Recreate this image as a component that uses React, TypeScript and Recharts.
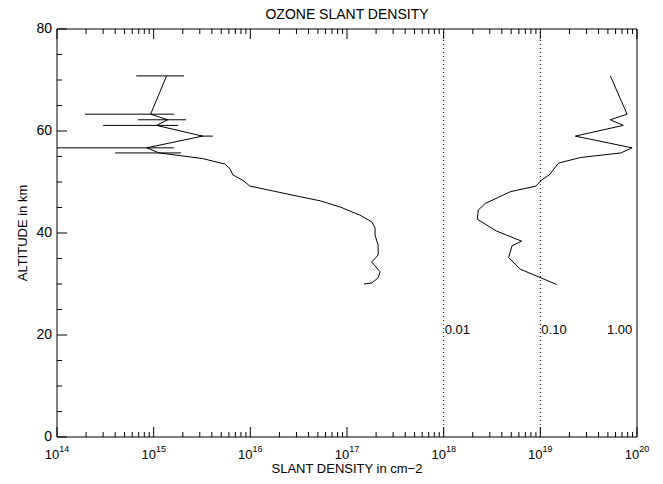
import React from "react"
import { ScatterChart, Scatter, XAxis, YAxis, ErrorBar, ReferenceLine } from "recharts"

const altitude = [70.8, 63.3, 62.2, 61.1, 59.0, 56.7, 55.7, 54.6, 53.5, 52.5, 51.4, 50.3, 49.2, 47.1, 46.3, 45.1, 43.5, 42.2, 41.0, 39.6, 37.6, 35.7, 34.3, 32.4, 31.2, 30.2, 30.0]
const slant = [1.36e15, 9.3e14, 1.4e15, 1.07e15, 3.2e15, 8.5e14, 1.14e15, 3.2e15, 5.5e15, 6.2e15, 6.6e15, 8.4e15, 9.9e15, 3.3e16, 5.3e16, 8.5e16, 1.36e17, 1.8e17, 1.95e17, 1.95e17, 2.1e17, 2.1e17, 1.8e17, 2.2e17, 2.1e17, 1.8e17, 1.5e17]
const slantLow = [6.6e14, 1.95e14, 6.9e14, 3.0e14, 2.97e15, 1e14, 4.0e14, 3.2e15, 5.5e15, 6.2e15, 6.6e15, 8.4e15, 9.9e15, 3.3e16, 5.3e16, 8.5e16, 1.36e17, 1.8e17, 1.95e17, 1.95e17, 2.1e17, 2.1e17, 1.8e17, 2.2e17, 2.1e17, 1.8e17, 1.5e17]
const slantHigh = [2.06e15, 1.62e15, 2.16e15, 1.79e15, 4.1e15, 1.62e15, 1.92e15, 3.2e15, 5.5e15, 6.2e15, 6.6e15, 8.4e15, 9.9e15, 3.3e16, 5.3e16, 8.5e16, 1.36e17, 1.8e17, 1.95e17, 1.95e17, 2.1e17, 2.1e17, 1.8e17, 2.2e17, 2.1e17, 1.8e17, 1.5e17]

const errAltitude = [70.8, 63.3, 62.2, 61.1, 59.0, 56.7, 55.7, 54.8, 53.7, 51.4, 50.4, 49.2, 48.1, 45.8, 44.5, 42.7, 40.4, 38.4, 37.5, 35.2, 32.9, 29.9]
const relError = [0.53, 0.79, 0.53, 0.72, 0.23, 0.89, 0.68, 0.26, 0.154, 0.124, 0.103, 0.09, 0.049, 0.027, 0.0228, 0.0223, 0.035, 0.064, 0.051, 0.047, 0.062, 0.148]

const errScale = 1e20
const decades = [1e14, 1e15, 1e16, 1e17, 1e18, 1e19, 1e20]
const errLabels = ["0.01", "0.10", "1.00"]

const xTicks: number[] = []
decades.forEach((d, i) => {
  xTicks.push(d)
  if (i < decades.length - 1) for (let m = 2; m <= 9; m++) xTicks.push(d * m)
})
const yTicks: number[] = []
for (let v = 0; v <= 80; v += 5) yTicks.push(v)

const densityData = altitude.map((a, i) => ({
  x: slant[i],
  y: a,
  ex: [slant[i] - slantLow[i], slantHigh[i] - slant[i]],
}))
const errorData = errAltitude.map((a, i) => ({ x: relError[i] * errScale, y: a }))

const FONT = "'Liberation Sans', Arial, sans-serif"
const isMajorX = (v: number) => decades.some((d) => Math.abs(v - d) / d < 1e-6)

const BottomTick = (p: any) => {
  const v = p.payload.value
  const major = isMajorX(v)
  const exp = Math.round(Math.log10(v))
  return (
    <g>
      <line x1={p.x} x2={p.x} y1={p.y} y2={p.y - (major ? 10 : 5)} stroke="#000" />
      {major && (
        <text x={p.x} y={p.y + 22} textAnchor="middle" fontSize={13} fontFamily={FONT}>
          10<tspan dy={-7} fontSize={9}>{exp}</tspan>
        </text>
      )}
    </g>
  )
}
const TopTick = (p: any) => {
  const major = isMajorX(p.payload.value)
  return <line x1={p.x} x2={p.x} y1={p.y} y2={p.y + (major ? 10 : 5)} stroke="#000" />
}
const LeftTick = (p: any) => {
  const v = p.payload.value
  const major = v % 20 === 0
  return (
    <g>
      <line x1={p.x} x2={p.x + (major ? 10 : 5)} y1={p.y} y2={p.y} stroke="#000" />
      {major && (
        <text x={p.x - 5} y={p.y + 4} textAnchor="end" fontSize={14} fontFamily={FONT}>
          {v}
        </text>
      )}
    </g>
  )
}
const RightTick = (p: any) => {
  const major = p.payload.value % 20 === 0
  return <line x1={p.x} x2={p.x - (major ? 10 : 5)} y1={p.y} y2={p.y} stroke="#000" />
}

const ErrLabel = (text: string, dx: number) => (props: any) => {
  const vb = props.viewBox
  return (
    <text x={vb.x + dx} y={334} fontSize={13} fontFamily={FONT}>
      {text}
    </text>
  )
}

export default function App() {
  return (
    <div style={{ position: "relative", width: 663, height: 484, margin: -8, background: "#fff", fontFamily: FONT }}>
      <div style={{ position: "absolute", top: 6, left: 57, width: 580, textAlign: "center", fontSize: 14 }}>
        OZONE SLANT DENSITY
      </div>
      <div style={{ position: "absolute", top: 461, left: 57, width: 580, textAlign: "center", fontSize: 13 }}>
        SLANT DENSITY in cm−2
      </div>
      <div
        style={{
          position: "absolute", left: 22, top: 233, fontSize: 13, whiteSpace: "nowrap",
          transform: "translate(-50%, -50%) rotate(-90deg)",
        }}
      >
        ALTITUDE in km
      </div>
      <ScatterChart width={663} height={484} margin={{ top: 28, right: 25, bottom: 46, left: 56 }} style={{ position: "absolute", top: 0, left: 0 }}>
        <XAxis xAxisId="b" dataKey="x" type="number" scale="log" domain={[1e14, 1e20]} allowDataOverflow ticks={xTicks}
          interval={0} height={1} tickSize={0} tickMargin={0} tick={<BottomTick />} axisLine={{ stroke: "#000" }} tickLine={false} />
        <XAxis xAxisId="t" orientation="top" dataKey="x" type="number" scale="log" domain={[1e14, 1e20]} allowDataOverflow
          ticks={xTicks} interval={0} height={1} tickSize={0} tickMargin={0} tick={<TopTick />} axisLine={{ stroke: "#000" }} tickLine={false} />
        <YAxis yAxisId="l" dataKey="y" type="number" domain={[0, 80]} ticks={yTicks} interval={0} width={1} tickSize={0}
          tickMargin={0} tick={<LeftTick />} axisLine={{ stroke: "#000" }} tickLine={false} />
        <YAxis yAxisId="r" orientation="right" dataKey="y" type="number" domain={[0, 80]} ticks={yTicks} interval={0}
          width={1} tickSize={0} tickMargin={0} tick={<RightTick />} axisLine={{ stroke: "#000" }} tickLine={false} />
        <ReferenceLine xAxisId="b" yAxisId="l" x={1e18} stroke="#000" strokeDasharray="1 3" label={ErrLabel(errLabels[0], 1)} />
        <ReferenceLine xAxisId="b" yAxisId="l" x={1e19} stroke="#000" strokeDasharray="1 3" label={ErrLabel(errLabels[1], 1)} />
        <ReferenceLine xAxisId="b" yAxisId="l" x={1e20} stroke="none" label={ErrLabel(errLabels[2], -30)} />
        <Scatter xAxisId="b" yAxisId="l" data={densityData} line={{ stroke: "#000", strokeWidth: 1 }} lineType="joint"
          shape={() => null} isAnimationActive={false}>
          <ErrorBar dataKey="ex" direction="x" width={0} stroke="#000" strokeWidth={1} />
        </Scatter>
        <Scatter xAxisId="b" yAxisId="l" data={errorData} line={{ stroke: "#000", strokeWidth: 1 }} lineType="joint"
          shape={() => null} isAnimationActive={false} />
      </ScatterChart>
    </div>
  )
}
